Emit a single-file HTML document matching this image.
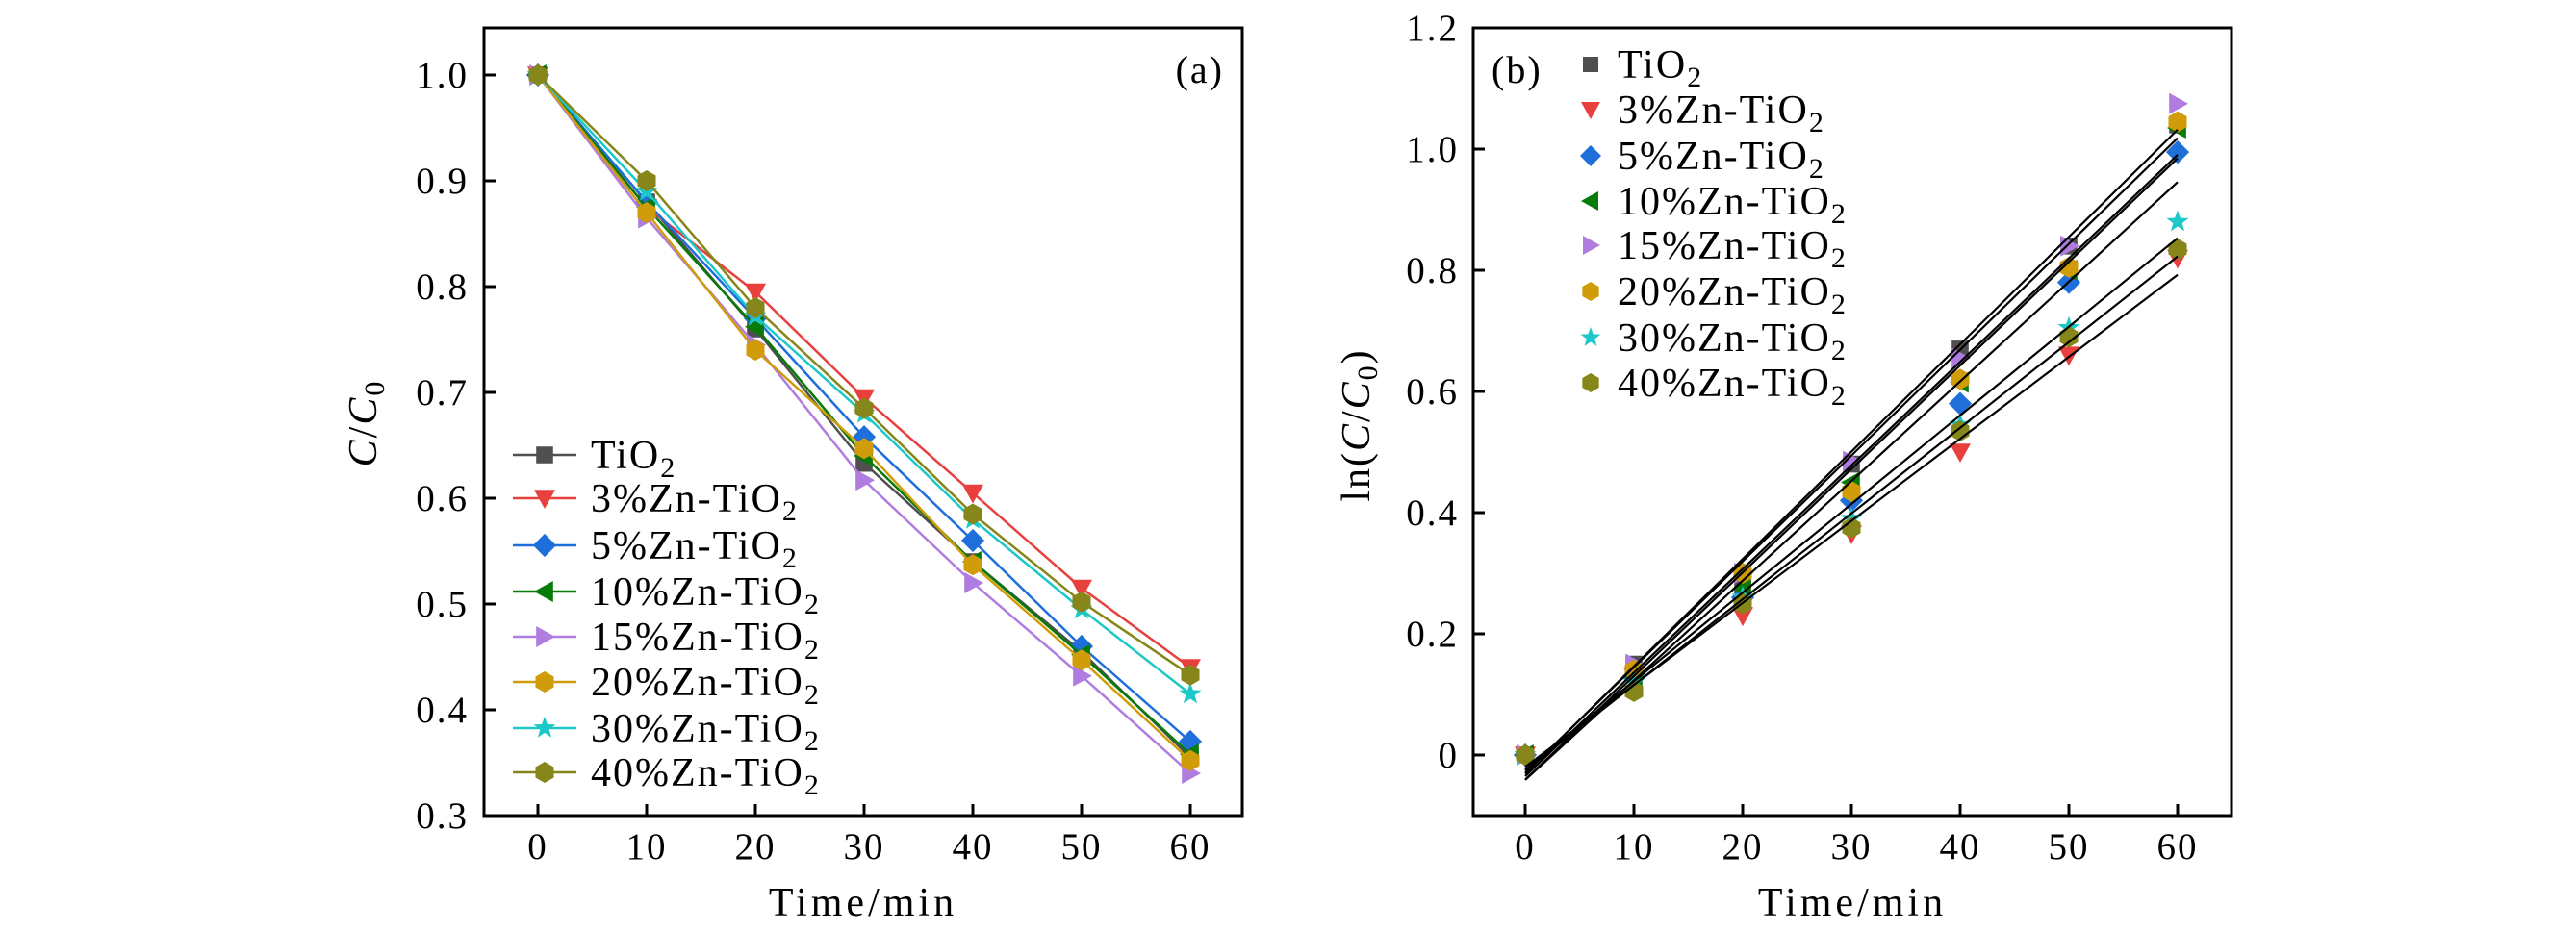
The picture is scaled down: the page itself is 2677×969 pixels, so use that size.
<!DOCTYPE html>
<html><head><meta charset="utf-8">
<style>
html,body{margin:0;padding:0;background:#fff;}
svg{display:block;font-family:"Liberation Serif","DejaVu Serif",serif;}
</style></head>
<body>
<svg id="fig" width="2677" height="969" viewBox="0 0 2677 969" xmlns="http://www.w3.org/2000/svg">
<g id="pa"></g>
<g id="pb"></g>
</svg>
<script>
const times = [0, 10, 20, 30, 40, 50, 60];
const seriesNames = ["TiO2", "3%Zn-TiO2", "5%Zn-TiO2", "10%Zn-TiO2", "15%Zn-TiO2", "20%Zn-TiO2", "30%Zn-TiO2", "40%Zn-TiO2"];
const legendPrefix = ["Ti", "3%Zn-Ti", "5%Zn-Ti", "10%Zn-Ti", "15%Zn-Ti", "20%Zn-Ti", "30%Zn-Ti", "40%Zn-Ti"];
const ratioTiO2 = [1, 0.88, 0.76, 0.633, 0.54, 0.455, 0.355];
const ratioZn3 = [1, 0.875, 0.795, 0.695, 0.605, 0.515, 0.44];
const ratioZn5 = [1, 0.88, 0.77, 0.658, 0.56, 0.46, 0.37];
const ratioZn10 = [1, 0.875, 0.762, 0.64, 0.54, 0.452, 0.358];
const ratioZn15 = [1, 0.865, 0.745, 0.617, 0.52, 0.432, 0.34];
const ratioZn20 = [1, 0.87, 0.74, 0.647, 0.537, 0.447, 0.352];
const ratioZn30 = [1, 0.89, 0.772, 0.68, 0.58, 0.495, 0.415];
const ratioZn40 = [1, 0.9, 0.78, 0.685, 0.585, 0.502, 0.433];
const lnTiO2 = [0, 0.15, 0.28, 0.48, 0.67, 0.84, 1.04];
const lnZn3 = [0, 0.13, 0.23, 0.365, 0.50, 0.66, 0.82];
const lnZn5 = [0, 0.13, 0.26, 0.42, 0.58, 0.78, 0.995];
const lnZn10 = [0, 0.13, 0.275, 0.45, 0.615, 0.80, 1.035];
const lnZn15 = [0, 0.15, 0.30, 0.485, 0.655, 0.84, 1.075];
const lnZn20 = [0, 0.14, 0.30, 0.435, 0.62, 0.805, 1.045];
const lnZn30 = [0, 0.12, 0.26, 0.39, 0.545, 0.705, 0.88];
const lnZn40 = [0, 0.105, 0.25, 0.375, 0.535, 0.69, 0.835];
const xTicks = [0, 10, 20, 30, 40, 50, 60];
const yTicksA = [0.3, 0.4, 0.5, 0.6, 0.7, 0.8, 0.9, 1.0];
const yTickLabelsA = ["0.3", "0.4", "0.5", "0.6", "0.7", "0.8", "0.9", "1.0"];
const yTicksB = [0, 0.2, 0.4, 0.6, 0.8, 1.0, 1.2];
const yTickLabelsB = ["0", "0.2", "0.4", "0.6", "0.8", "1.0", "1.2"];

const ratioSeries = [ratioTiO2, ratioZn3, ratioZn5, ratioZn10, ratioZn15, ratioZn20, ratioZn30, ratioZn40];
const lnSeries = [lnTiO2, lnZn3, lnZn5, lnZn10, lnZn15, lnZn20, lnZn30, lnZn40];
const colors = ["#4f4f4f", "#e8403d", "#1f6fdb", "#087a08", "#b07ce0", "#d19c0a", "#1cc8c8", "#86861a"];
const markers = ["square", "down", "diamond", "left", "right", "hex", "star", "hex"];
const NS = "http://www.w3.org/2000/svg";

function mk(parent, tag, attrs, text) {
  const e = document.createElementNS(NS, tag);
  for (const k in attrs) e.setAttribute(k, attrs[k]);
  if (text !== undefined) e.textContent = text;
  parent.appendChild(e);
  return e;
}
function markerPath(type, cx, cy, s) {
  if (type === "square") return `M${cx-s*0.8},${cy-s*0.8}h${s*1.6}v${s*1.6}h${-s*1.6}z`;
  if (type === "down") return `M${cx-s},${cy-s*0.8}L${cx+s},${cy-s*0.8}L${cx},${cy+s}z`;
  if (type === "diamond") return `M${cx},${cy-s*1.1}L${cx+s*1.1},${cy}L${cx},${cy+s*1.1}L${cx-s*1.1},${cy}z`;
  if (type === "left") return `M${cx-s},${cy}L${cx+s*0.8},${cy-s}L${cx+s*0.8},${cy+s}z`;
  if (type === "right") return `M${cx+s},${cy}L${cx-s*0.8},${cy-s}L${cx-s*0.8},${cy+s}z`;
  if (type === "hex") { let p=""; for(let i=0;i<6;i++){const a=Math.PI/3*i+Math.PI/6; p+=(i?"L":"M")+(cx+s*Math.cos(a))+","+(cy+s*Math.sin(a));} return p+"z"; }
  if (type === "star") { let p=""; for(let i=0;i<10;i++){const r=i%2?s*0.45:s*1.1; const a=-Math.PI/2+Math.PI/5*i; p+=(i?"L":"M")+(cx+r*Math.cos(a))+","+(cy+r*Math.sin(a));} return p+"z"; }
}

function axes(g, L, R, T, B, x0, x60, yMap, yTicks, yLabels, labelRight) {
  const xs = v => x0 + (x60 - x0) * v / 60;
  for (const t of xTicks) {
    const tk = mk(g, "line", {x1: xs(t), x2: xs(t), y1: B, y2: B - 12, stroke: "#000", "stroke-width": 3});
    
    
    const lb = mk(g, "text", {x: xs(t), y: 893, "font-size": 39, "letter-spacing": 2, "text-anchor": "middle"}, String(t));
    
    
  }
  yTicks.forEach((t, i) => {
    const y = yMap(t);
    const tk = mk(g, "line", {x1: L, x2: L + 12, y1: y, y2: y, stroke: "#000", "stroke-width": 3});
    
    
    const lb = mk(g, "text", {x: labelRight, y: y + 13, "font-size": 39, "letter-spacing": 2, "text-anchor": "end"}, yLabels[i]);
    
    
  });
  const fr = mk(g, "rect", {x: L, y: T, width: R - L, height: B - T, fill: "none", stroke: "#000", "stroke-width": 3});
  
  
  const xt = mk(g, "text", {x: (L + R) / 2, y: 952, "font-size": 42, "letter-spacing": 4, "text-anchor": "middle"}, "Time/min");
  
  
  return xs;
}

function legendLabel(g, x, y, i) {
  const t = mk(g, "text", {x: x, y: y + 14, "font-size": 42, "letter-spacing": 2});
  
  
  mk(t, "tspan", {}, legendPrefix[i] + "O");
  mk(t, "tspan", {dy: 9, "font-size": 30}, "2");
}

/* Panel A */
(function(){
  const g = document.getElementById("pa");
  const L = 503, R = 1291, T = 29, B = 848;
  const ys = v => 848 - (v - 0.3) * 1100;
  const xs = axes(g, L, R, T, B, 559, 1237, ys, yTicksA, yTickLabelsA, 487);
  ratioSeries.forEach((ser, i) => {
    const sg = mk(g, "g", {});
    
    
    const pts = ser.map((v, j) => xs(times[j]) + "," + ys(v)).join(" ");
    const pl = mk(sg, "polyline", {points: pts, fill: "none", stroke: colors[i], "stroke-width": 2.5});
    
    
    ser.forEach((v, j) => {
      const m = mk(sg, "path", {d: markerPath(markers[i], xs(times[j]), ys(v), 11), fill: colors[i]});
      
      
    });
  });
  const lg = mk(g, "g", {});
  
  
  const rows = [473, 518, 567, 615, 662, 709, 757, 803];
  seriesNames.forEach((n, i) => {
    const e = mk(lg, "g", {});
    
    
    mk(e, "line", {x1: 533, x2: 599, y1: rows[i], y2: rows[i], stroke: colors[i], "stroke-width": 2.5});
    mk(e, "path", {d: markerPath(markers[i], 566, rows[i], 11), fill: colors[i]});
    legendLabel(e, 614, rows[i], i);
  });
  const yt = mk(g, "text", {transform: "translate(391,440) rotate(-90)", "font-size": 42, "letter-spacing": 2, "text-anchor": "middle"});
  
  
  mk(yt, "tspan", {"font-style": "italic"}, "C");
  mk(yt, "tspan", {}, "/");
  mk(yt, "tspan", {"font-style": "italic"}, "C");
  mk(yt, "tspan", {dy: 8, "font-size": 30}, "0");
  const pl = mk(g, "text", {x: 1272, y: 86, "font-size": 40, "letter-spacing": 2, "text-anchor": "end"}, "(a)");
  
  
})();

/* Panel B */
(function(){
  const g = document.getElementById("pb");
  const L = 1531, R = 2319, T = 29, B = 848;
  const ys = v => 785 - v * 630;
  const xs = axes(g, L, R, T, B, 1585, 2263, ys, yTicksB, yTickLabelsB, 1516);
  lnSeries.forEach((ser, i) => {
    const sg = mk(g, "g", {});
    
    
    ser.forEach((v, j) => {
      const m = mk(sg, "path", {d: markerPath(markers[i], xs(times[j]), ys(v), 11), fill: colors[i]});
      
      
    });
  });
  lnSeries.forEach((ser, i) => {
    const n = times.length;
    const mx = times.reduce((a,b)=>a+b,0)/n, my = ser.reduce((a,b)=>a+b,0)/n;
    let sxy = 0, sxx = 0;
    times.forEach((t, j) => { sxy += (t-mx)*(ser[j]-my); sxx += (t-mx)*(t-mx); });
    const k = sxy / sxx, b0 = my - k * mx;
    const fl = mk(g, "line", {x1: xs(0), y1: ys(b0), x2: xs(60), y2: ys(b0 + k*60), stroke: "#000", "stroke-width": 2.2});
    
    
  });
  const lg = mk(g, "g", {});
  
  
  const rows = [67, 114, 162, 209, 255, 303, 351, 398];
  seriesNames.forEach((n, i) => {
    const e = mk(lg, "g", {});
    
    
    mk(e, "path", {d: markerPath(markers[i], 1653, rows[i], 10), fill: colors[i]});
    legendLabel(e, 1681, rows[i], i);
  });
  const yt = mk(g, "text", {transform: "translate(1423,442) rotate(-90)", "font-size": 42, "letter-spacing": 2, "text-anchor": "middle"});
  
  
  mk(yt, "tspan", {}, "ln(");
  mk(yt, "tspan", {"font-style": "italic"}, "C");
  mk(yt, "tspan", {}, "/");
  mk(yt, "tspan", {"font-style": "italic"}, "C");
  mk(yt, "tspan", {dy: 8, "font-size": 30}, "0");
  mk(yt, "tspan", {dy: -8}, ")");
  const pl = mk(g, "text", {x: 1550, y: 86, "font-size": 40, "letter-spacing": 2}, "(b)");
  
  
})();
</script>
</body></html>
